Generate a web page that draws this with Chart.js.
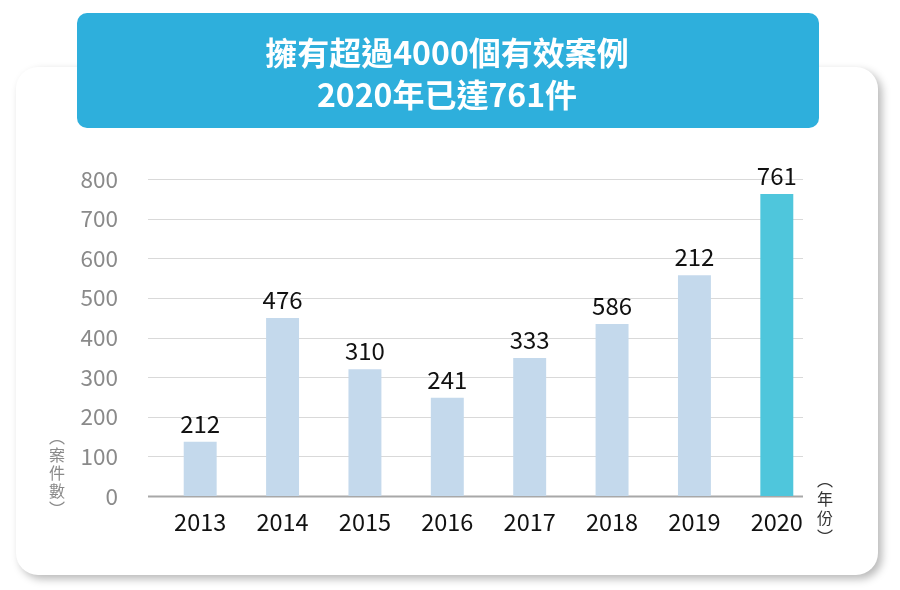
<!DOCTYPE html>
<html>
<head>
<meta charset="utf-8">
<script src="https://cdn.jsdelivr.net/npm/chart.js@4"></script>
<style>
  html, body { margin: 0; padding: 0; background: #fff; }
  #wrap { width: 900px; height: 590px; }
</style>
</head>
<body>
<div id="wrap"><canvas id="myChart" width="900" height="590"></canvas></div>
<script>
const FONT = "'Noto Sans CJK TC', 'Noto Sans', sans-serif";

const years = ['2013', '2014', '2015', '2016', '2017', '2018', '2019', '2020'];
// bar heights as drawn in the picture
const barValues = [137, 449, 320, 248, 348, 434, 557, 762];
// numbers printed above the bars
const barLabels = ['212', '476', '310', '241', '333', '586', '212', '761'];
const barColors = ['#c4d9ec', '#c4d9ec', '#c4d9ec', '#c4d9ec', '#c4d9ec', '#c4d9ec', '#c4d9ec', '#4fc6dc'];
const yTicks = [0, 100, 200, 300, 400, 500, 600, 700, 800];
const titleLines = ['擁有超過4000個有效案例', '2020年已達761件'];
const yAxisTitle = ['︵', '案', '件', '數', '︶'];
const xAxisTitle = ['︵', '年', '份', '︶'];

// card, title banner, grid lines
const backdrop = {
  id: 'backdrop',
  beforeDraw(chart) {
    const ctx = chart.ctx;
    ctx.save();
    ctx.shadowColor = 'rgba(0,0,0,0.28)';
    ctx.shadowBlur = 8;
    ctx.shadowOffsetX = 4;
    ctx.shadowOffsetY = 4;
    ctx.fillStyle = '#ffffff';
    ctx.beginPath();
    ctx.roundRect(16, 67, 862, 508, 22);
    ctx.fill();
    ctx.restore();

    ctx.save();
    ctx.fillStyle = '#2eafdc';
    ctx.beginPath();
    ctx.roundRect(77, 13, 742, 115, 10);
    ctx.fill();
    ctx.fillStyle = '#ffffff';
    ctx.font = 'bold 32px ' + FONT;
    ctx.textAlign = 'center';
    ctx.textBaseline = 'middle';
    ctx.fillText(titleLines[0], 447, 53);
    ctx.fillText(titleLines[1], 447, 95);
    ctx.restore();
  },
  beforeDatasetsDraw(chart) {
    const ctx = chart.ctx;
    const y = chart.scales.y;
    const left = chart.chartArea.left - 11;
    const right = chart.chartArea.right - 15;
    ctx.save();
    y.ticks.forEach(t => {
      const py = Math.round(y.getPixelForValue(t.value)) + 0.5;
      ctx.beginPath();
      if (t.value === 0) {
        ctx.strokeStyle = '#a8a8a8';
        ctx.lineWidth = 2;
      } else {
        ctx.strokeStyle = '#d9d9d9';
        ctx.lineWidth = 1.2;
      }
      ctx.moveTo(left, py);
      ctx.lineTo(right, py);
      ctx.stroke();
    });
    ctx.restore();
  },
  afterDatasetsDraw(chart) {
    const ctx = chart.ctx;
    const meta = chart.getDatasetMeta(0);
    ctx.save();
    ctx.fillStyle = '#111111';
    ctx.font = '24px ' + FONT;
    ctx.textAlign = 'center';
    ctx.textBaseline = 'alphabetic';
    meta.data.forEach((bar, i) => {
      ctx.fillText(barLabels[i], bar.x, bar.y - 9);
    });
    ctx.restore();
  },
  afterDraw(chart) {
    const ctx = chart.ctx;
    ctx.save();
    ctx.font = '16px ' + FONT;
    ctx.textAlign = 'center';
    ctx.textBaseline = 'middle';
    ctx.fillStyle = '#8a8a8a';
    yAxisTitle.forEach((ch, i) => ctx.fillText(ch, 57, 437 + i * 18));
    ctx.fillStyle = '#333333';
    xAxisTitle.forEach((ch, i) => ctx.fillText(ch, 825, 480 + i * 19));
    ctx.restore();
  }
};

const ctx = document.getElementById('myChart').getContext('2d');

new Chart(ctx, {
  type: 'bar',
  data: {
    labels: years,
    datasets: [{
      data: barValues,
      backgroundColor: barColors,
      borderWidth: 0,
      barPercentage: 0.4,
      categoryPercentage: 1.0
    }]
  },
  options: {
    responsive: false,
    animation: false,
    layout: { padding: { top: 179, right: 82, bottom: 0, left: 0 } },
    plugins: {
      legend: { display: false },
      tooltip: { enabled: false }
    },
    scales: {
      x: {
        grid: { display: false, drawTicks: false },
        border: { display: false },
        ticks: {
          color: '#111111',
          font: { family: FONT, size: 23.5 },
          padding: 12
        },
        afterFit(scale) { scale.height = 94; }
      },
      y: {
        min: 0,
        max: 800,
        grid: { display: false, drawTicks: false },
        border: { display: false },
        afterBuildTicks(scale) {
          scale.ticks = yTicks.map(v => ({ value: v }));
        },
        ticks: {
          color: '#8a8a8a',
          font: { family: FONT, size: 22.5 },
          padding: 41
        },
        afterFit(scale) { scale.width = 159; }
      }
    }
  },
  plugins: [backdrop]
});
</script>
</body>
</html>
